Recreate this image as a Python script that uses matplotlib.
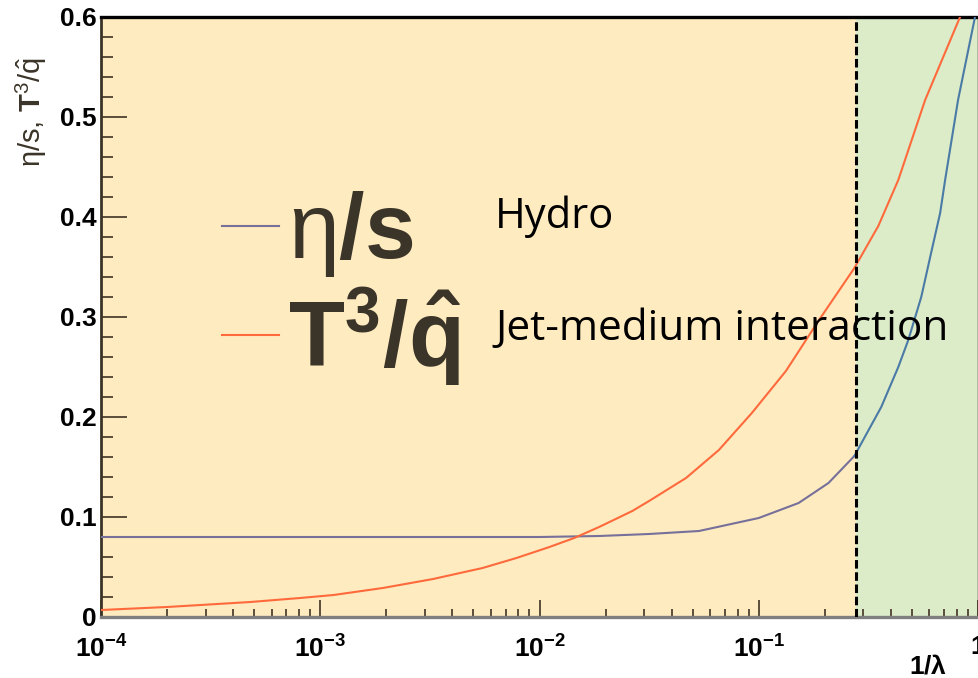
import matplotlib
matplotlib.use("Agg")
import matplotlib.pyplot as plt
from matplotlib.ticker import FixedLocator, FixedFormatter, LogLocator, NullFormatter

plt.rcParams['font.family'] = ['Liberation Sans', 'DejaVu Sans']
plt.rcParams['mathtext.fontset'] = 'custom'
plt.rcParams['mathtext.rm'] = 'Liberation Sans'
plt.rcParams['mathtext.bf'] = 'Liberation Sans:bold'
plt.rcParams['mathtext.it'] = 'Liberation Sans:italic'
plt.rcParams['mathtext.sf'] = 'Liberation Sans'

# --- data ---
inv_lambda_red = [1.0e-4, 2.0e-4, 2.85e-4, 4.8e-4, 8.1e-4, 1.15e-3, 1.93e-3, 3.27e-3,
                  5.5e-3, 7.85e-3, 1.11e-2, 1.44e-2, 1.87e-2, 2.65e-2, 3.16e-2, 4.66e-2,
                  6.58e-2, 9.3e-2, 0.133, 0.187, 0.273, 0.351, 0.433, 0.574, 0.828]
t3_over_qhat = [0.007, 0.010, 0.012, 0.015, 0.019, 0.022, 0.029, 0.038,
                0.049, 0.059, 0.070, 0.079, 0.090, 0.106, 0.116, 0.139,
                0.167, 0.204, 0.246, 0.296, 0.349, 0.391, 0.437, 0.517, 0.600]

inv_lambda_eta = [1.0e-4, 1.0e-3, 1.0e-2, 1.87e-2, 3.16e-2, 5.34e-2, 0.1, 0.152, 0.208,
                  0.273, 0.362, 0.433, 0.481, 0.551, 0.611, 0.672, 0.708, 0.811, 0.969]
eta_over_s = [0.080, 0.080, 0.080, 0.081, 0.083, 0.086, 0.099, 0.114, 0.134,
              0.161, 0.210, 0.250, 0.277, 0.320, 0.364, 0.404, 0.437, 0.517, 0.600]

x_cut = 0.277  # boundary hydro / jet-medium region

y_ticks = [0, 0.1, 0.2, 0.3, 0.4, 0.5, 0.6]
y_tick_labels = ['0', '0.1', '0.2', '0.3', '0.4', '0.5', '0.6']
x_ticks = [1e-4, 1e-3, 1e-2, 1e-1, 1]
x_tick_labels = [r'$\mathbf{10^{-4}}$', r'$\mathbf{10^{-3}}$', r'$\mathbf{10^{-2}}$',
                 r'$\mathbf{10^{-1}}$', r'$\mathbf{1}$']
legend_labels = [r'$\mathrm{\eta}\mathbf{/s}$', r'$\mathbf{T^3/\hat{q}}$']

# colours
yellow = '#feebc0'
green = '#dcebc8'
red = '#ff6a3c'
purple = '#76709a'
steel = '#4a7aa6'
dark = '#3b3428'

fig = plt.figure(figsize=(9.79, 6.78), dpi=100)
ax = fig.add_axes([101 / 979, 61 / 678, 877 / 979, 600 / 678])
ax.set_xscale('log')
ax.set_xlim(1e-4, 1)
ax.set_ylim(0, 0.6)

ax.axvspan(1e-4, x_cut, color=yellow, lw=0, zorder=0)
ax.axvspan(x_cut, 1, color=green, lw=0, zorder=0)

# eta/s: purple in hydro region, blue-ish in the green region
n_left = sum(1 for v in inv_lambda_eta if v <= x_cut)
l_eta, = ax.plot(inv_lambda_eta[:n_left], eta_over_s[:n_left],
                 color=purple, lw=1.5, zorder=3)
ax.plot(inv_lambda_eta[n_left - 1:], eta_over_s[n_left - 1:],
        color=steel, lw=1.5, zorder=3)
l_t3, = ax.plot(inv_lambda_red, t3_over_qhat, color=red, lw=1.5, zorder=3)

ax.axvline(x_cut, color='black', lw=2.2, linestyle=(0, (2.8, 1.2)), zorder=4)

# ticks
ax.yaxis.set_major_locator(FixedLocator(y_ticks))
ax.yaxis.set_major_formatter(FixedFormatter(y_tick_labels))
ax.yaxis.set_minor_locator(FixedLocator([i * 0.02 for i in range(31)]))
ax.xaxis.set_major_locator(FixedLocator(x_ticks))
ax.xaxis.set_major_formatter(FixedFormatter(x_tick_labels))
ax.xaxis.set_minor_locator(LogLocator(base=10, subs=range(2, 10)))
ax.xaxis.set_minor_formatter(NullFormatter())

ax.tick_params(axis='both', which='both', direction='in', top=False, right=False,
               color='#5a4e3c')
ax.tick_params(axis='y', which='major', length=19, width=1.4, pad=3,
               labelsize=19)
ax.tick_params(axis='y', which='minor', length=8.5, width=1.4)
ax.tick_params(axis='x', which='major', length=12, width=1.4, pad=13,
               labelsize=19)
ax.tick_params(axis='x', which='minor', length=6, width=1.4)
for lab in ax.get_yticklabels():
    lab.set_fontweight('bold')

ax.spines['top'].set_linewidth(2.4)
ax.spines['top'].set_color('black')
ax.spines['left'].set_linewidth(2.0)
ax.spines['left'].set_color(dark)
ax.spines['bottom'].set_linewidth(2.4)
ax.spines['bottom'].set_color('#7f7f7f')
ax.spines['right'].set_linewidth(1.0)
ax.spines['right'].set_color('black')

# big legend
leg = ax.legend([l_eta, l_t3], legend_labels, loc='upper left',
                bbox_to_anchor=((222 - 101) / 877, (617 - 189) / 600),
                frameon=False, fontsize=66, handlelength=0.62,
                handletextpad=0.1, labelspacing=0.07, borderpad=0,
                borderaxespad=0, labelcolor=dark)

ax.text((495 - 101) / 877, (617 - 228) / 600, 'Hydro', transform=ax.transAxes,
        family='Open Sans', fontsize=30, va='baseline', ha='left', color='black')
ax.text((495 - 101) / 877, (617 - 340) / 600, 'Jet-medium interaction',
        transform=ax.transAxes, family='Open Sans', fontsize=30.5,
        va='baseline', ha='left', color='black')

fig.text(31 / 979, 1 - 57 / 678, r'$\mathrm{\eta}$/s, $\mathbf{T}^{3}/\hat{\mathrm{q}}$',
         rotation=90, ha='center', va='top', fontsize=21, color=dark)
fig.text(947 / 979, 1 - 666 / 678, r'$\mathbf{1/\lambda}$', ha='right', va='center',
         fontsize=19, color='black')

fig.savefig('out.png', dpi=100)
